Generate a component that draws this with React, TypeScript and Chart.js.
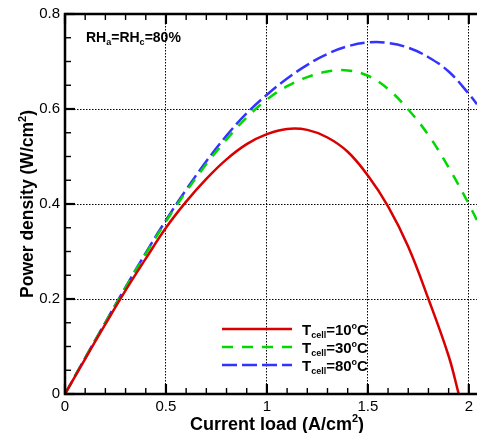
import { useEffect, useRef } from "react";
import { Chart, registerables } from "chart.js";

Chart.register(...registerables);

// ---------- data ----------
const loadAxis = [0, 0.1, 0.2, 0.3, 0.4, 0.5, 0.6, 0.7, 0.8, 0.9, 1.0, 1.1, 1.2, 1.3, 1.4, 1.5, 1.6, 1.7, 1.8, 1.9, 2.0, 2.04];
const load10 = [0, 0.1, 0.2, 0.3, 0.4, 0.5, 0.6, 0.7, 0.8, 0.9, 1.0, 1.1, 1.2, 1.3, 1.4, 1.5, 1.6, 1.7, 1.8, 1.9, 1.95];
const pd10 = [0, 0.074, 0.147, 0.218, 0.285, 0.35, 0.405, 0.453, 0.494, 0.526, 0.547, 0.558, 0.556, 0.54, 0.51, 0.46, 0.395, 0.31, 0.2, 0.08, 0.0];
const pd30 = [0, 0.076, 0.15, 0.224, 0.295, 0.363, 0.426, 0.484, 0.536, 0.582, 0.62, 0.648, 0.667, 0.679, 0.681, 0.67, 0.642, 0.599, 0.545, 0.477, 0.4, 0.366];
const pd80 = [0, 0.076, 0.151, 0.225, 0.297, 0.366, 0.43, 0.49, 0.544, 0.591, 0.63, 0.664, 0.693, 0.716, 0.732, 0.74, 0.739, 0.729, 0.709, 0.679, 0.632, 0.61];

const seriesTemps = ["10", "30", "80"];
const seriesColors = ["#d80000", "#00d800", "#3333ff"];
const seriesDash: number[][] = [[], [11, 9], [15, 5]];

const xTickLabels = ["0", "0.5", "1", "1.5", "2"];
const yTickLabels = ["0", "0.2", "0.4", "0.6", "0.8"];
const xMax = 2.04;
const yMax = 0.8;

const FONT = '"Liberation Sans", Arial, Helvetica, sans-serif';

type Seg = { t: string; k?: "sub" | "sup" };

function drawRich(ctx: CanvasRenderingContext2D, segs: Seg[], x: number, y: number, size: number, align: "left" | "center") {
  const parts = segs.map((s) => {
    const sz = s.k ? Math.round(size * 0.62) : size;
    ctx.font = `bold ${sz}px ${FONT}`;
    return { s, sz, w: ctx.measureText(s.t).width };
  });
  const total = parts.reduce((a, p) => a + p.w, 0);
  let cx = align === "center" ? x - total / 2 : x;
  ctx.textAlign = "left";
  ctx.textBaseline = "alphabetic";
  for (const p of parts) {
    ctx.font = `bold ${p.sz}px ${FONT}`;
    const dy = p.s.k === "sub" ? size * 0.22 : p.s.k === "sup" ? -size * 0.42 : 0;
    ctx.fillText(p.s.t, cx, y + dy);
    cx += p.w;
  }
}

const decorPlugin = {
  id: "decor",
  afterDatasetsDraw(chart: any) {
    const { ctx, chartArea } = chart;
    const { left, right, top, bottom } = chartArea;
    const xs = chart.scales.x;
    const ys = chart.scales.y;
    ctx.save();
    ctx.strokeStyle = "#000";
    ctx.fillStyle = "#000";
    // frame
    ctx.lineWidth = 2.5;
    ctx.setLineDash([]);
    ctx.beginPath();
    ctx.moveTo(right + 2, top);
    ctx.lineTo(left, top);
    ctx.lineTo(left, bottom);
    ctx.lineTo(right + 2, bottom);
    ctx.stroke();
    // x ticks
    for (let i = 0; i <= 20; i++) {
      const v = i / 10;
      const px = xs.getPixelForValue(v);
      const major = i % 5 === 0;
      const len = major ? 10 : 6;
      ctx.lineWidth = major ? 2.2 : 1.4;
      ctx.beginPath();
      ctx.moveTo(px, bottom);
      ctx.lineTo(px, bottom - len);
      ctx.moveTo(px, top);
      ctx.lineTo(px, top + len);
      ctx.stroke();
    }
    // y ticks
    for (let j = 0; j <= 16; j++) {
      const v = j * 0.05;
      const py = ys.getPixelForValue(v);
      const major = j % 4 === 0;
      const len = major ? 10 : 6;
      ctx.lineWidth = major ? 2.2 : 1.4;
      ctx.beginPath();
      ctx.moveTo(left, py);
      ctx.lineTo(left + len, py);
      ctx.stroke();
    }
    // annotation
    drawRich(ctx, [{ t: "RH" }, { t: "a", k: "sub" }, { t: "=RH" }, { t: "c", k: "sub" }, { t: "=80%" }], left + 21, top + 28, 14, "left");
    // legend
    const lx0 = left + 157;
    const lx1 = left + 227;
    seriesTemps.forEach((tmp, i) => {
      const ly = top + 315 + i * 18;
      ctx.strokeStyle = seriesColors[i];
      ctx.lineWidth = 2.5;
      ctx.setLineDash(seriesDash[i]);
      ctx.beginPath();
      ctx.moveTo(lx0, ly);
      ctx.lineTo(lx1, ly);
      ctx.stroke();
      ctx.setLineDash([]);
      ctx.fillStyle = "#000";
      drawRich(ctx, [{ t: "T" }, { t: "cell", k: "sub" }, { t: "=" + tmp }, { t: "o", k: "sup" }, { t: "C" }], lx1 + 10, ly + 6, 15, "left");
    });
    // axis titles
    drawRich(ctx, [{ t: "Current load (A/cm" }, { t: "2", k: "sup" }, { t: ")" }], (left + right) / 2 + 6, bottom + 36, 18, "center");
    ctx.save();
    ctx.translate(33, (top + bottom) / 2);
    ctx.rotate(-Math.PI / 2);
    drawRich(ctx, [{ t: "Power density (W/cm" }, { t: "2", k: "sup" }, { t: ")" }], 0, 0, 17.5, "center");
    ctx.restore();
    ctx.restore();
  },
};

export default function App() {
  const ref = useRef<HTMLCanvasElement | null>(null);
  useEffect(() => {
    if (!ref.current) return;
    const mk = (xs: number[], ys: number[]) => xs.map((x, i) => ({ x, y: ys[i] }));
    const common = { borderWidth: 2.5, pointRadius: 0, tension: 0.4, fill: false };
    const chart = new Chart(ref.current, {
      type: "line",
      data: {
        datasets: [
          { label: "10", data: mk(load10, pd10), borderColor: seriesColors[0], borderDash: seriesDash[0], ...common },
          { label: "30", data: mk(loadAxis, pd30), borderColor: seriesColors[1], borderDash: seriesDash[1], ...common },
          { label: "80", data: mk(loadAxis, pd80), borderColor: seriesColors[2], borderDash: seriesDash[2], ...common },
        ],
      },
      options: {
        responsive: false,
        animation: false,
        layout: { padding: { left: 0, right: 0, top: 9, bottom: 0 } },
        plugins: { legend: { display: false }, tooltip: { enabled: false } },
        scales: {
          x: {
            type: "linear",
            min: 0,
            max: xMax,
            afterFit: (s: any) => { s.height = 39; },
            ticks: {
              stepSize: 0.5,
              includeBounds: false,
              padding: 4,
              color: "#000",
              font: { family: FONT, size: 15 },
              maxRotation: 0,
              callback: (v: any) => xTickLabels[Math.round(Number(v) / 0.5)] ?? "",
            },
            grid: {
              drawTicks: false,
              color: (c: any) => (c.tick && c.tick.value === 0 ? "rgba(0,0,0,0)" : "#000"),
              lineWidth: 1,
            },
            border: { display: false, dash: [1.5, 1.5] },
          },
          y: {
            type: "linear",
            min: 0,
            max: yMax,
            afterFit: (s: any) => { s.width = 65; },
            ticks: {
              stepSize: 0.2,
              includeBounds: false,
              padding: 5,
              color: "#000",
              font: { family: FONT, size: 15 },
              callback: (v: any) => yTickLabels[Math.round(Number(v) / 0.2)] ?? "",
            },
            grid: {
              drawTicks: false,
              color: (c: any) => (c.tick && (c.tick.value === 0 || Math.abs(c.tick.value - 0.8) < 1e-6) ? "rgba(0,0,0,0)" : "#000"),
              lineWidth: 1,
            },
            border: { display: false, dash: [1.5, 1.5] },
          },
        },
      },
      plugins: [decorPlugin],
    });
    return () => chart.destroy();
  }, []);
  return (
    <canvas
      ref={ref}
      width={477}
      height={433}
      style={{ position: "absolute", left: 0, top: 0, display: "block", background: "#fff" }}
    />
  );
}
